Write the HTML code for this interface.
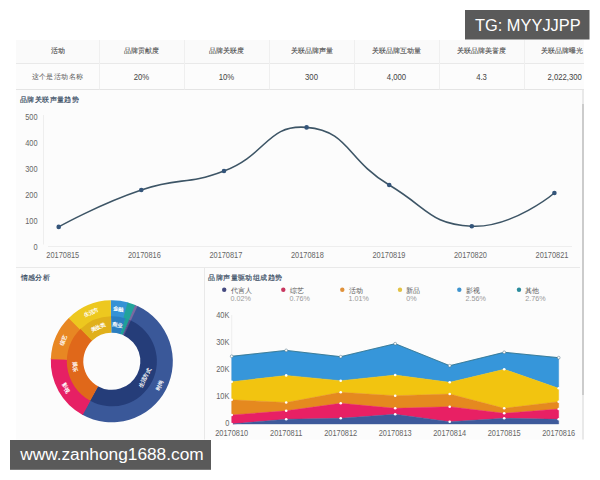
<!DOCTYPE html>
<html><head><meta charset="utf-8"><title>dashboard</title><style>
html,body{margin:0;padding:0;background:#fff;width:600px;height:480px;overflow:hidden;font-family:"Liberation Sans",sans-serif;}
svg{position:absolute;left:0;top:0;font-family:"Liberation Sans",sans-serif;}
.th{font-size:7px;fill:#4a4a4a;stroke:#4a4a4a;stroke-width:0.1px;text-anchor:middle;}
.td{font-size:7px;letter-spacing:0.4px;fill:#555;text-anchor:middle;}
.tn{font-size:8.8px;fill:#444;text-anchor:middle;}
.ax{font-size:8.4px;fill:#666;}
.tt{font-size:7px;letter-spacing:0.4px;fill:#34495e;stroke:#34495e;stroke-width:0.18px;}
.lg{font-size:7px;fill:#555;}
.lp{font-size:7.2px;fill:#999;}
.dl{font-size:5.4px;fill:#fff;font-weight:bold;text-anchor:middle;}
.wm{fill:#fff;}
</style></head><body>
<svg width="600" height="480" viewBox="0 0 600 480">
<defs><clipPath id="tc"><rect x="16" y="40" width="568" height="50"/></clipPath></defs>
<rect x="16" y="40" width="568" height="399.5" fill="#fcfcfc"/>
<rect x="16" y="40" width="568" height="23" fill="#fafafa"/>
<line x1="16" y1="63.5" x2="584" y2="63.5" stroke="#e9e9e9"/>
<line x1="16" y1="89.5" x2="584" y2="89.5" stroke="#e4e4e4"/>
<g clip-path="url(#tc)">
<line x1="99.5" y1="40" x2="99.5" y2="89.5" stroke="#efefef" stroke-width="1"/><line x1="184.5" y1="40" x2="184.5" y2="89.5" stroke="#efefef" stroke-width="1"/><line x1="269.5" y1="40" x2="269.5" y2="89.5" stroke="#efefef" stroke-width="1"/><line x1="354.5" y1="40" x2="354.5" y2="89.5" stroke="#efefef" stroke-width="1"/><line x1="439.5" y1="40" x2="439.5" y2="89.5" stroke="#efefef" stroke-width="1"/><line x1="524.5" y1="40" x2="524.5" y2="89.5" stroke="#efefef" stroke-width="1"/>
<text x="57.5" y="53.4" class="th">活动</text><text x="57.5" y="79.3" class="td">这个是活动名称</text><text x="141.5" y="53.4" class="th">品牌贡献度</text><text transform="translate(141.50 79.60) scale(0.880 1)" class="tn" text-anchor="middle">20%</text><text x="226.5" y="53.4" class="th">品牌关联度</text><text transform="translate(226.50 79.60) scale(0.880 1)" class="tn" text-anchor="middle">10%</text><text x="311.5" y="53.4" class="th">关联品牌声量</text><text transform="translate(311.50 79.60) scale(0.880 1)" class="tn" text-anchor="middle">300</text><text x="396.5" y="53.4" class="th">关联品牌互动量</text><text transform="translate(396.50 79.60) scale(0.880 1)" class="tn" text-anchor="middle">4,000</text><text x="481.5" y="53.4" class="th">关联品牌美誉度</text><text transform="translate(481.50 79.60) scale(0.880 1)" class="tn" text-anchor="middle">4.3</text><text x="562.4" y="53.4" class="th">关联品牌曝光</text><text transform="translate(564.70 79.60) scale(0.880 1)" class="tn" text-anchor="middle">2,022,300</text>
</g>
<text x="20" y="101.7" class="tt">品牌关联声量趋势</text>
<line x1="43.5" y1="115" x2="43.5" y2="244.5" stroke="#eee"/>
<line x1="48" y1="246.5" x2="572" y2="246.5" stroke="#eee"/>
<text transform="translate(37.60 249.80) scale(0.880 1)" class="ax" text-anchor="end">0</text><text transform="translate(37.60 223.80) scale(0.880 1)" class="ax" text-anchor="end">100</text><text transform="translate(37.60 197.80) scale(0.880 1)" class="ax" text-anchor="end">200</text><text transform="translate(37.60 171.80) scale(0.880 1)" class="ax" text-anchor="end">300</text><text transform="translate(37.60 145.80) scale(0.880 1)" class="ax" text-anchor="end">400</text><text transform="translate(37.60 119.80) scale(0.880 1)" class="ax" text-anchor="end">500</text>
<text transform="translate(62.80 257.60) scale(0.880 1)" class="ax" text-anchor="middle">20170815</text><text transform="translate(144.33 257.60) scale(0.880 1)" class="ax" text-anchor="middle">20170816</text><text transform="translate(225.86 257.60) scale(0.880 1)" class="ax" text-anchor="middle">20170817</text><text transform="translate(307.39 257.60) scale(0.880 1)" class="ax" text-anchor="middle">20170818</text><text transform="translate(388.92 257.60) scale(0.880 1)" class="ax" text-anchor="middle">20170819</text><text transform="translate(470.45 257.60) scale(0.880 1)" class="ax" text-anchor="middle">20170820</text><text transform="translate(551.98 257.60) scale(0.880 1)" class="ax" text-anchor="middle">20170821</text>
<path d="M58.70,226.90 C58.70,226.90 98.65,204.42 141.30,190.00 C181.30,176.47 184.66,185.90 224.00,171.00 C267.31,154.60 266.85,124.03 306.60,127.40 C349.45,131.03 346.10,159.23 389.20,185.00 C428.70,208.63 429.75,224.16 471.80,226.20 C512.35,228.16 554.40,193.00 554.40,193.00" fill="none" stroke="#3d5566" stroke-width="1.6"/>
<circle cx="58.7" cy="226.9" r="2.3" fill="#34557a"/><circle cx="141.3" cy="190.0" r="2.3" fill="#34557a"/><circle cx="224.0" cy="171.0" r="2.3" fill="#34557a"/><circle cx="306.6" cy="127.4" r="2.3" fill="#34557a"/><circle cx="389.2" cy="185.0" r="2.3" fill="#34557a"/><circle cx="471.8" cy="226.2" r="2.3" fill="#34557a"/><circle cx="554.4" cy="193.0" r="2.3" fill="#34557a"/>
<line x1="16" y1="267.5" x2="580" y2="267.5" stroke="#e9e9e9"/>
<line x1="204.5" y1="268" x2="204.5" y2="439.5" stroke="#e9e9e9"/>
<text x="20.5" y="280.4" class="tt">情感分析</text>
<text x="208.4" y="280.4" class="tt">品牌声量驱动组成趋势</text>
<path d="M110.74,300.31 A61.00,61.00 0 0 1 128.41,302.60 L123.78,318.96 A44.00,44.00 0 0 0 111.03,317.31 Z" fill="#3592d5" stroke="#3592d5" stroke-width="0"/>
<path d="M127.59,302.38 A61.00,61.00 0 0 1 135.93,305.27 L129.20,320.89 A44.00,44.00 0 0 0 123.19,318.80 Z" fill="#22a39b" stroke="#22a39b" stroke-width="0"/>
<path d="M135.14,304.94 A61.00,61.00 0 0 1 138.35,306.38 L130.95,321.69 A44.00,44.00 0 0 0 128.64,320.65 Z" fill="#7a6aa0" stroke="#7a6aa0" stroke-width="0"/>
<path d="M137.58,306.02 A61.00,61.00 0 1 1 81.95,414.50 L90.27,399.67 A44.00,44.00 0 1 0 130.40,321.42 Z" fill="#3a5899" stroke="#3a5899" stroke-width="0"/>
<path d="M82.69,414.91 A61.00,61.00 0 0 1 50.87,358.32 L67.85,359.15 A44.00,44.00 0 0 0 90.81,399.97 Z" fill="#e62064" stroke="#e62064" stroke-width="0"/>
<path d="M50.84,359.17 A61.00,61.00 0 0 1 69.27,317.57 L81.12,329.76 A44.00,44.00 0 0 0 67.83,359.76 Z" fill="#e88723" stroke="#e88723" stroke-width="0"/>
<path d="M68.67,318.17 A61.00,61.00 0 0 1 110.74,300.31 L111.03,317.31 A44.00,44.00 0 0 0 80.69,330.19 Z" fill="#edc81f" stroke="#edc81f" stroke-width="0"/>
<path d="M111.01,316.31 A45.00,45.00 0 0 1 125.93,318.58 L120.75,334.24 A28.50,28.50 0 0 0 111.30,332.80 Z" fill="#2a7ec0" stroke="#2a7ec0" stroke-width="0"/>
<path d="M125.33,318.38 A45.00,45.00 0 0 1 129.60,319.97 L123.07,335.12 A28.50,28.50 0 0 0 120.37,334.12 Z" fill="#1e9f98" stroke="#1e9f98" stroke-width="0"/>
<path d="M129.02,319.73 A45.00,45.00 0 0 1 131.39,320.79 L124.20,335.64 A28.50,28.50 0 0 0 122.71,334.97 Z" fill="#5a4f8e" stroke="#5a4f8e" stroke-width="0"/>
<path d="M130.82,320.52 A45.00,45.00 0 1 1 89.78,400.54 L97.85,386.15 A28.50,28.50 0 1 0 123.84,335.47 Z" fill="#253d79" stroke="#253d79" stroke-width="0"/>
<path d="M90.33,400.85 A45.00,45.00 0 0 1 81.00,328.50 L92.29,340.52 A28.50,28.50 0 0 0 98.20,386.35 Z" fill="#e0681a" stroke="#e0681a" stroke-width="0"/>
<path d="M80.54,328.93 A45.00,45.00 0 0 1 111.01,316.31 L111.30,332.80 A28.50,28.50 0 0 0 92.00,340.80 Z" fill="#e0b01b" stroke="#e0b01b" stroke-width="0"/>
<text x="118.3" y="310.7" class="dl" transform="rotate(7.0 118.3 308.7)">金融</text>
<text x="159.1" y="387.2" class="dl" transform="rotate(-63.2 159.1 385.2)">时尚</text>
<text x="65.8" y="389.6" class="dl" transform="rotate(60.2 65.8 387.6)">影视</text>
<text x="63.2" y="342.2" class="dl" transform="rotate(-66.5 63.2 340.2)">综艺</text>
<text x="91.1" y="314.5" class="dl" transform="rotate(-23.0 91.1 312.5)">生活方</text>
<text x="117.1" y="326.9" class="dl" transform="rotate(8.2 117.1 324.9)">商业</text>
<text x="144.6" y="379.8" class="dl" transform="rotate(-63.2 144.6 377.8)">生活方式</text>
<text x="75.4" y="368.3" class="dl" transform="rotate(82.2 75.4 366.3)">娱乐</text>
<text x="97.7" y="329.3" class="dl" transform="rotate(-22.5 97.7 327.3)">美妆类</text>
<circle cx="224.2" cy="289.7" r="2.2" fill="#454a80"/><text x="230.5" y="292.5" class="lg">代言人</text><text x="230.5" y="300.6" class="lp">0.02%</text><circle cx="283.3" cy="289.7" r="2.2" fill="#c8365f"/><text x="289.6" y="292.5" class="lg">综艺</text><text x="289.6" y="300.6" class="lp">0.76%</text><circle cx="342.3" cy="289.7" r="2.2" fill="#e0913a"/><text x="348.6" y="292.5" class="lg">活动</text><text x="348.6" y="300.6" class="lp">1.01%</text><circle cx="400.0" cy="289.7" r="2.2" fill="#e2c245"/><text x="406.3" y="292.5" class="lg">新品</text><text x="406.3" y="300.6" class="lp">0%</text><circle cx="459.3" cy="289.7" r="2.2" fill="#3f94cf"/><text x="465.6" y="292.5" class="lg">影视</text><text x="465.6" y="300.6" class="lp">2.56%</text><circle cx="519.0" cy="289.7" r="2.2" fill="#2b8c9c"/><text x="525.3" y="292.5" class="lg">其他</text><text x="525.3" y="300.6" class="lp">2.76%</text>
<line x1="231.7" y1="315" x2="231.7" y2="424" stroke="#eee"/>
<path d="M231.7,356.3 L286.2,350.4 L340.7,356.7 L395.2,343.7 L449.7,365.7 L504.2,352.3 L558.7,357.7 L558.7,388.3 L504.2,369.3 L449.7,382.3 L395.2,375.0 L340.7,380.7 L286.2,375.4 L231.7,381.7 Z" fill="#3696da" stroke="#3696da" stroke-width="0.4"/>
<path d="M231.7,381.7 L286.2,375.4 L340.7,380.7 L395.2,375.0 L449.7,382.3 L504.2,369.3 L558.7,388.3 L558.7,401.7 L504.2,408.3 L449.7,394.0 L395.2,395.7 L340.7,392.3 L286.2,402.5 L231.7,399.8 Z" fill="#f2c410" stroke="#f2c410" stroke-width="0.4"/>
<path d="M231.7,399.8 L286.2,402.5 L340.7,392.3 L395.2,395.7 L449.7,394.0 L504.2,408.3 L558.7,401.7 L558.7,409.0 L504.2,413.3 L449.7,406.7 L395.2,408.3 L340.7,403.3 L286.2,410.8 L231.7,415.0 Z" fill="#e5891f" stroke="#e5891f" stroke-width="0.4"/>
<path d="M231.7,415.0 L286.2,410.8 L340.7,403.3 L395.2,408.3 L449.7,406.7 L504.2,413.3 L558.7,409.0 L558.7,419.3 L504.2,418.3 L449.7,421.7 L395.2,414.3 L340.7,418.3 L286.2,419.2 L231.7,424.0 Z" fill="#e82064" stroke="#e82064" stroke-width="0.4"/>
<path d="M231.7,424.0 L286.2,419.2 L340.7,418.3 L395.2,414.3 L449.7,421.7 L504.2,418.3 L558.7,419.3 L558.7,424.0 L504.2,424.0 L449.7,424.0 L395.2,424.0 L340.7,424.0 L286.2,424.0 L231.7,424.0 Z" fill="#3e5a9b" stroke="#3e5a9b" stroke-width="0.4"/>
<polyline points="231.7,356.3 286.2,350.4 340.7,356.7 395.2,343.7 449.7,365.7 504.2,352.3 558.7,357.7" fill="none" stroke="#2d6f86" stroke-width="0.8"/><circle cx="231.7" cy="424.0" r="1.3" fill="#fff"/><circle cx="286.2" cy="419.2" r="1.3" fill="#fff"/><circle cx="340.7" cy="418.3" r="1.3" fill="#fff"/><circle cx="395.2" cy="414.3" r="1.3" fill="#fff"/><circle cx="449.7" cy="421.7" r="1.3" fill="#fff"/><circle cx="504.2" cy="418.3" r="1.3" fill="#fff"/><circle cx="558.7" cy="419.3" r="1.3" fill="#fff"/><circle cx="231.7" cy="415.0" r="1.3" fill="#fff"/><circle cx="286.2" cy="410.8" r="1.3" fill="#fff"/><circle cx="340.7" cy="403.3" r="1.3" fill="#fff"/><circle cx="395.2" cy="408.3" r="1.3" fill="#fff"/><circle cx="449.7" cy="406.7" r="1.3" fill="#fff"/><circle cx="504.2" cy="413.3" r="1.3" fill="#fff"/><circle cx="558.7" cy="409.0" r="1.3" fill="#fff"/><circle cx="231.7" cy="399.8" r="1.3" fill="#fff"/><circle cx="286.2" cy="402.5" r="1.3" fill="#fff"/><circle cx="340.7" cy="392.3" r="1.3" fill="#fff"/><circle cx="395.2" cy="395.7" r="1.3" fill="#fff"/><circle cx="449.7" cy="394.0" r="1.3" fill="#fff"/><circle cx="504.2" cy="408.3" r="1.3" fill="#fff"/><circle cx="558.7" cy="401.7" r="1.3" fill="#fff"/><circle cx="231.7" cy="381.7" r="1.3" fill="#fff"/><circle cx="286.2" cy="375.4" r="1.3" fill="#fff"/><circle cx="340.7" cy="380.7" r="1.3" fill="#fff"/><circle cx="395.2" cy="375.0" r="1.3" fill="#fff"/><circle cx="449.7" cy="382.3" r="1.3" fill="#fff"/><circle cx="504.2" cy="369.3" r="1.3" fill="#fff"/><circle cx="558.7" cy="388.3" r="1.3" fill="#fff"/><circle cx="231.7" cy="356.3" r="1.4" fill="#fff" stroke="#4a6f80" stroke-width="0.5"/><circle cx="286.2" cy="350.4" r="1.4" fill="#fff" stroke="#4a6f80" stroke-width="0.5"/><circle cx="340.7" cy="356.7" r="1.4" fill="#fff" stroke="#4a6f80" stroke-width="0.5"/><circle cx="395.2" cy="343.7" r="1.4" fill="#fff" stroke="#4a6f80" stroke-width="0.5"/><circle cx="449.7" cy="365.7" r="1.4" fill="#fff" stroke="#4a6f80" stroke-width="0.5"/><circle cx="504.2" cy="352.3" r="1.4" fill="#fff" stroke="#4a6f80" stroke-width="0.5"/><circle cx="558.7" cy="357.7" r="1.4" fill="#fff" stroke="#4a6f80" stroke-width="0.5"/>
<text transform="translate(229.40 426.30) scale(0.880 1)" class="ax" text-anchor="end">0</text><text transform="translate(229.40 399.30) scale(0.880 1)" class="ax" text-anchor="end">10K</text><text transform="translate(229.40 372.30) scale(0.880 1)" class="ax" text-anchor="end">20K</text><text transform="translate(229.40 345.30) scale(0.880 1)" class="ax" text-anchor="end">30K</text><text transform="translate(229.40 318.30) scale(0.880 1)" class="ax" text-anchor="end">40K</text>
<text transform="translate(231.70 435.60) scale(0.880 1)" class="ax" text-anchor="middle">20170810</text><text transform="translate(286.20 435.60) scale(0.880 1)" class="ax" text-anchor="middle">20170811</text><text transform="translate(340.70 435.60) scale(0.880 1)" class="ax" text-anchor="middle">20170812</text><text transform="translate(395.20 435.60) scale(0.880 1)" class="ax" text-anchor="middle">20170813</text><text transform="translate(449.70 435.60) scale(0.880 1)" class="ax" text-anchor="middle">20170814</text><text transform="translate(504.20 435.60) scale(0.880 1)" class="ax" text-anchor="middle">20170815</text><text transform="translate(558.70 435.60) scale(0.880 1)" class="ax" text-anchor="middle">20170816</text>
<rect x="582" y="90" width="2" height="349.5" fill="#e9e9e9"/><rect x="582" y="104" width="2" height="291" fill="#cccccc"/>
<rect x="465" y="10" width="124.5" height="29.5" fill="#5a5a5a"/>
<text x="475" y="31.3" class="wm" font-size="16.4">TG: MYYJJPP</text>
<rect x="10" y="440" width="201" height="29.8" fill="#5a5a5a"/>
<text x="20.2" y="459.9" class="wm" font-size="17.3">www.zanhong1688.com</text>
</svg>
</body></html>
